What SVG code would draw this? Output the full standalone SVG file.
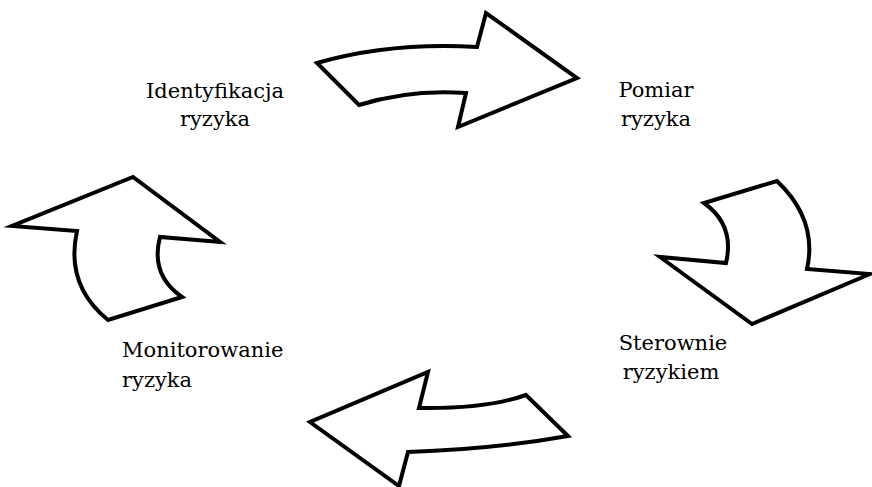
<svg xmlns="http://www.w3.org/2000/svg" width="872" height="487" viewBox="0 0 872 487">
<style>
.arrow{fill:#fff;stroke:#000;stroke-width:4;stroke-linejoin:miter;stroke-miterlimit:10}
.lbl{font-family:"DejaVu Serif","Liberation Serif",serif;font-size:21px;fill:#000}
</style>
<rect width="872" height="487" fill="#fff"/>
<g id="connectors">
<path id="arrow-top" class="arrow" d="M317,63 Q390,42 477,47 L486,13 L577,78 L458,127 L466,93 Q410,89 359,105 Z"/>
<path id="arrow-right" class="arrow" d="M777,181 Q818,220 807,269 L870,274 L752,324 L660,257 L726,263 Q735,225 704,203 Z"/>
<path id="arrow-bottom" class="arrow" d="M526,395 Q487,409 419,408 L428,372 L310,422 L399,486 L408,452 Q495,449 568,436 Z"/>
<path id="arrow-left" class="arrow" d="M108,320 Q65,285 77,231 L12,226 L133,177 L220,242 L160,237 Q150,275 182,297 Z"/>
</g>
<g id="node-identyfikacja">
<text class="lbl" x="215" y="98" text-anchor="middle">Identyfikacja</text>
<text class="lbl" x="215" y="126" text-anchor="middle">ryzyka</text>
</g>
<g id="node-pomiar">
<text class="lbl" x="656" y="97" text-anchor="middle">Pomiar</text>
<text class="lbl" x="656" y="126" text-anchor="middle">ryzyka</text>
</g>
<g id="node-sterownie">
<text class="lbl" x="673" y="350" text-anchor="middle">Sterownie</text>
<text class="lbl" x="671" y="379" text-anchor="middle">ryzykiem</text>
</g>
<g id="node-monitorowanie">
<text class="lbl" x="122" y="357">Monitorowanie</text>
<text class="lbl" x="122" y="387">ryzyka</text>
</g>
</svg>
